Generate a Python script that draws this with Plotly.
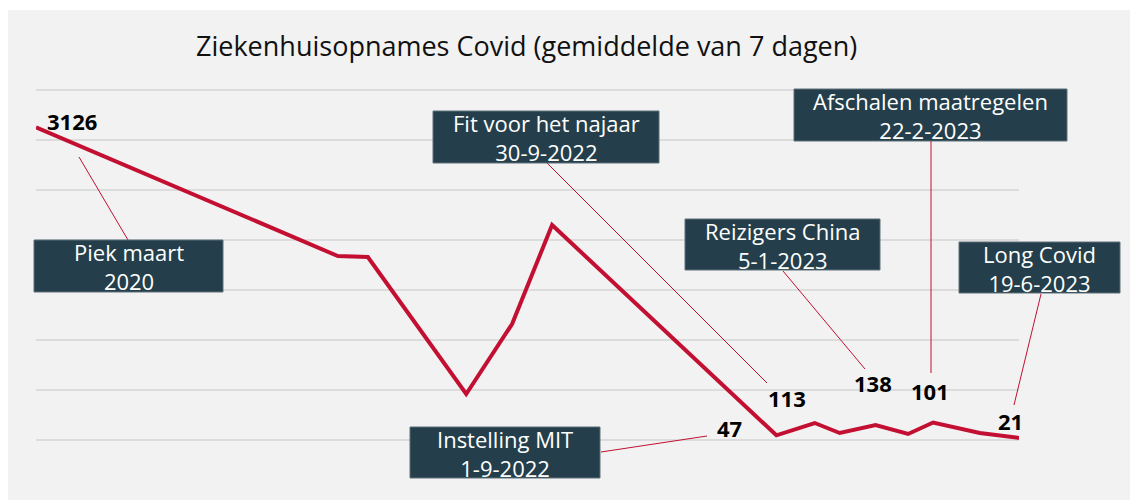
import plotly.graph_objects as go

# ---- data ----
dates = ["2020-03-27", "2021-03-24", "2021-04-29", "2021-08-25", "2021-10-19",
         "2021-12-06", "2022-09-01", "2022-10-17", "2022-11-16", "2022-12-29",
         "2023-02-06", "2023-03-08", "2023-05-03", "2023-06-19"]
admissions = [3126, 1840, 1830, 460, 1160, 2150, 47, 170, 70, 150, 60, 175, 70, 21]

event_texts = ["Piek maart<br>2020", "Fit voor het najaar<br>30-9-2022",
               "Reizigers China<br>5-1-2023", "Afschalen maatregelen<br>22-2-2023",
               "Long Covid<br>19-6-2023", "Instelling MIT<br>1-9-2022"]
value_texts = ["3126", "113", "138", "101", "21", "47"]

title_text = "Ziekenhuisopnames Covid (gemiddelde van 7 dagen)"

# ---- layout helpers (screen pixel -> paper); page body margin is 8px ----
OX, OY = 8, 8
W, H = 1130, 492
PLOT_X0, PLOT_X1, PLOT_Y0, PLOT_Y1 = 36, 1019, 87, 443   # screen px
Y_RANGE = [-30, 3530]
L = PLOT_X0 - OX
R = W - (PLOT_X1 - OX)
T = PLOT_Y0 - OY
B = H - (PLOT_Y1 - OY)
PW, PH = PLOT_X1 - PLOT_X0, PLOT_Y1 - PLOT_Y0


def fx(p):
    return (p - PLOT_X0) / PW


def fy(p):
    return (PLOT_Y1 - p) / PH


RED = "#c20f32"
BOX = "#243f4b"
BG = "#f2f2f2"
FONT = "Open Sans"

fig = go.Figure()
fig.add_trace(go.Scatter(x=dates, y=admissions, mode="lines",
                         line=dict(color=RED, width=4), hoverinfo="skip"))

# event boxes: (x0, y0, x1, y1) in screen px
box_geom = [(34, 240, 223, 292), (433, 111, 659, 163), (685, 219, 880, 270),
            (794, 89, 1067, 141), (959, 242, 1120, 293), (410, 427, 600, 478)]
# pointer lines
pointers = [((79, 157), (128, 240)), ((547, 163), (767, 383)), ((783, 271), (865, 369)),
            ((931, 141), (931, 373)), ((1041, 294), (1014, 405)), ((601, 452), (707, 436))]
# value label centres
value_pos = [(72, 121), (786.5, 398), (872.5, 383), (929.5, 391), (1010.5, 421), (729, 428)]

shapes = [dict(type="rect", xref="paper", yref="paper", layer="below",
               x0=fx(OX), x1=fx(OX + W), y0=fy(OY + H), y1=fy(10),
               fillcolor=BG, line=dict(width=0))]
for (a, b) in pointers:
    shapes.append(dict(type="line", xref="paper", yref="paper",
                       x0=fx(a[0]), y0=fy(a[1]), x1=fx(b[0]), y1=fy(b[1]),
                       line=dict(color=RED, width=1)))

annotations = []
for txt, (x0, y0, x1, y1) in zip(event_texts, box_geom):
    shapes.append(dict(type="rect", xref="paper", yref="paper", layer="above",
                       x0=fx(x0), x1=fx(x1), y0=fy(y1), y1=fy(y0),
                       fillcolor=BOX, line=dict(color="#5d717b", width=1)))
    cx, cy = (x0 + x1) / 2, (y0 + y1) / 2 + 0.75
    annotations.append(dict(text=txt, xref="paper", yref="paper",
                            x=fx(cx), y=fy(cy), xanchor="center", yanchor="middle",
                            showarrow=False, align="center",
                            font=dict(family=FONT, size=22, color="white")))
for txt, (cx, cy) in zip(value_texts, value_pos):
    annotations.append(dict(text=txt, xref="paper", yref="paper", x=fx(cx), y=fy(cy),
                            xanchor="center", yanchor="middle", showarrow=False,
                            font=dict(family=FONT, size=22, color="black", weight="bold")))
annotations.append(dict(text=title_text, xref="paper", yref="paper", x=fx(526), y=fy(45),
                        xanchor="center", yanchor="middle", showarrow=False,
                        font=dict(family=FONT, size=27, color="#111111")))

fig.update_layout(
    width=W, height=H,
    margin=dict(l=L, r=R, t=T, b=B, pad=0),
    paper_bgcolor="white", plot_bgcolor=BG,
    showlegend=False, hovermode=False,
    xaxis=dict(type="date", range=[dates[0], dates[-1]], showgrid=False,
               showticklabels=False, zeroline=False, showline=False, ticks=""),
    yaxis=dict(range=Y_RANGE, dtick=500, tick0=0, showgrid=True,
               gridcolor="#dcdcdc", gridwidth=2, showticklabels=False,
               zeroline=False, showline=False, ticks=""),
    shapes=shapes, annotations=annotations,
)

fig.write_html("out.html")
